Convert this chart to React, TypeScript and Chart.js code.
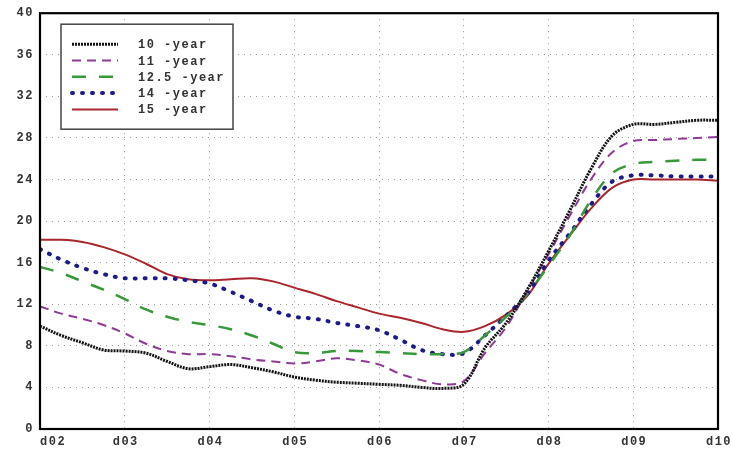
import React, { useEffect, useRef } from 'react';
import { Chart, registerables } from 'chart.js';

Chart.register(...registerables);

const xTickLabels = ['d02', 'd03', 'd04', 'd05', 'd06', 'd07', 'd08', 'd09', 'd10'];
const yTicks = [0, 4, 8, 12, 16, 20, 24, 28, 32, 36, 40];

const xs = [0, 0.25, 0.5, 0.75, 1, 1.25, 1.5, 1.75, 2, 2.25, 2.5, 2.75, 3, 3.25, 3.5, 3.75, 4, 4.25, 4.5, 4.75, 5, 5.25, 5.5, 5.75, 6, 6.25, 6.5, 6.75, 7, 7.25, 7.5, 7.75, 8];

const seriesNames = ['10 -year', '11 -year', '12.5 -year', '14 -year', '15 -year'];

const year10 = [9.9, 9.0, 8.3, 7.6, 7.5, 7.3, 6.5, 5.8, 6.0, 6.2, 5.9, 5.5, 5.0, 4.7, 4.5, 4.4, 4.3, 4.2, 4.0, 3.9, 4.3, 7.8, 10.2, 13.4, 17.1, 21.0, 25.0, 28.2, 29.3, 29.3, 29.5, 29.7, 29.7];
const year11 = [11.8, 11.1, 10.6, 10.0, 9.2, 8.2, 7.5, 7.2, 7.2, 7.0, 6.7, 6.5, 6.3, 6.5, 6.8, 6.6, 6.2, 5.3, 4.7, 4.3, 4.6, 7.3, 9.8, 13.3, 16.8, 20.5, 24.0, 26.6, 27.7, 27.8, 27.9, 28.0, 28.1];
const year125 = [15.6, 15.0, 14.2, 13.4, 12.5, 11.5, 10.8, 10.3, 10.0, 9.6, 9.0, 8.2, 7.4, 7.3, 7.5, 7.5, 7.4, 7.3, 7.2, 7.2, 7.4, 9.0, 10.8, 13.0, 15.7, 18.6, 22.0, 24.6, 25.5, 25.7, 25.8, 25.9, 25.9];
const year14 = [17.3, 16.3, 15.5, 14.9, 14.5, 14.5, 14.5, 14.3, 14.0, 13.2, 12.3, 11.4, 10.8, 10.6, 10.2, 9.9, 9.5, 8.6, 7.6, 7.2, 7.3, 9.0, 10.9, 13.0, 16.2, 18.8, 21.6, 23.8, 24.4, 24.4, 24.3, 24.3, 24.3];
const year15 = [18.2, 18.2, 18.0, 17.5, 16.8, 15.9, 14.9, 14.4, 14.3, 14.4, 14.5, 14.2, 13.6, 13.0, 12.3, 11.7, 11.1, 10.7, 10.2, 9.6, 9.35, 9.9, 11.0, 12.8, 15.9, 18.6, 21.2, 23.2, 24.0, 24.0, 24.0, 24.0, 23.9];

const seriesValues = [year10, year11, year125, year14, year15];
const seriesColors = ['#141414', '#8e3a95', '#38993a', '#1b1b8a', '#a8262c'];
const seriesWidths = [3, 2, 2.5, 4, 2];
const seriesDashes: number[][] = [[2, 1], [9, 6], [14, 13], [1, 9], []];
const seriesCaps = ['butt', 'butt', 'butt', 'round', 'butt'];

const MONO = '"Liberation Mono", "DejaVu Sans Mono", monospace';
const TEXT_COLOR = '#333333';

const framePlugin = {
  id: 'frameAndLegend',
  beforeDraw(chart: any) {
    try { chart.ctx.letterSpacing = '1.5px'; } catch (e) {}
  },
  afterDatasetsDraw(chart: any) {
    const { ctx, chartArea } = chart;
    const { left, right, top, bottom } = chartArea;
    ctx.save();
    ctx.strokeStyle = '#000';
    ctx.lineWidth = 2.2;
    ctx.setLineDash([]);
    ctx.strokeRect(left, top, right - left, bottom - top);

    // legend box
    const bx = left + 21;
    const by = top + 11;
    const bw = 172;
    const bh = 105;
    ctx.fillStyle = '#fff';
    ctx.fillRect(bx, by, bw, bh);
    ctx.strokeStyle = '#444';
    ctx.lineWidth = 1.5;
    ctx.strokeRect(bx, by, bw, bh);

    chart.data.datasets.forEach((ds: any, i: number) => {
      const ry = by + 20 + i * 16.3;
      ctx.save();
      ctx.strokeStyle = ds.borderColor;
      ctx.lineWidth = ds.borderWidth;
      ctx.setLineDash(ds.borderDash || []);
      ctx.lineCap = ds.borderCapStyle || 'butt';
      ctx.beginPath();
      ctx.moveTo(bx + 11, ry);
      ctx.lineTo(bx + 57, ry);
      ctx.stroke();
      ctx.restore();
      ctx.fillStyle = TEXT_COLOR;
      ctx.font = `bold 12px ${MONO}`;
      ctx.textBaseline = 'middle';
      ctx.textAlign = 'left';
      ctx.fillText(ds.label, bx + 77, ry + 1);
    });

    // x-axis labels
    const xs = chart.scales.x;
    ctx.fillStyle = TEXT_COLOR;
    ctx.font = `bold 12px ${MONO}`;
    ctx.textBaseline = 'middle';
    xTickLabels.forEach((lab, i) => {
      const px = xs.getPixelForValue(i);
      if (i === 0) {
        ctx.textAlign = 'left';
        ctx.fillText(lab, px, bottom + 13);
      } else {
        ctx.textAlign = 'center';
        ctx.fillText(lab, px + 1, bottom + 13);
      }
    });
    ctx.restore();
  },
  afterDraw(chart: any) {
    try { chart.ctx.letterSpacing = '0px'; } catch (e) {}
  },
};

export default function App() {
  const canvasRef = useRef<HTMLCanvasElement | null>(null);

  useEffect(() => {
    document.body.style.margin = '0';
    const canvas = canvasRef.current;
    if (!canvas) return;
    const datasets = seriesValues.map((vals, i) => ({
      label: seriesNames[i],
      data: vals.map((v, j) => ({ x: xs[j], y: v })),
      borderColor: seriesColors[i],
      backgroundColor: seriesColors[i],
      borderWidth: seriesWidths[i],
      borderDash: seriesDashes[i],
      borderCapStyle: seriesCaps[i],
      pointRadius: 0,
      tension: 0.35,
      fill: false,
    }));

    const chart = new Chart(canvas, {
      type: 'line',
      data: { datasets } as any,
      options: {
        animation: false,
        responsive: false,
        maintainAspectRatio: false,
        layout: { padding: { top: 11, right: 14, left: 0, bottom: 0 } },
        plugins: {
          legend: { display: false },
          tooltip: { enabled: false },
        },
        scales: {
          x: {
            type: 'linear',
            min: 0,
            max: 8,
            afterFit: (s: any) => { s.height = 24; },
            afterBuildTicks: (s: any) => { s.ticks = xTickLabels.map((_, i) => ({ value: i })); },
            ticks: { display: false },
            grid: { color: '#9a9a9a', lineWidth: 1, drawTicks: false },
            border: { display: false, dash: [1, 5] },
          },
          y: {
            type: 'linear',
            min: 0,
            max: 40,
            afterFit: (s: any) => { s.width = 40; },
            afterBuildTicks: (s: any) => { s.ticks = yTicks.map((v) => ({ value: v })); },
            ticks: {
              font: { family: MONO, size: 12, weight: 'bold' },
              color: TEXT_COLOR,
              padding: 6,
              autoSkip: false,
            },
            grid: { color: '#9a9a9a', lineWidth: 1, drawTicks: false },
            border: { display: false, dash: [1, 5] },
          },
        },
      } as any,
      plugins: [framePlugin],
    });
    return () => chart.destroy();
  }, []);

  return (
    <div style={{ width: 732, height: 453, background: '#fff' }}>
      <canvas ref={canvasRef} width={732} height={453} style={{ display: 'block' }} />
    </div>
  );
}
